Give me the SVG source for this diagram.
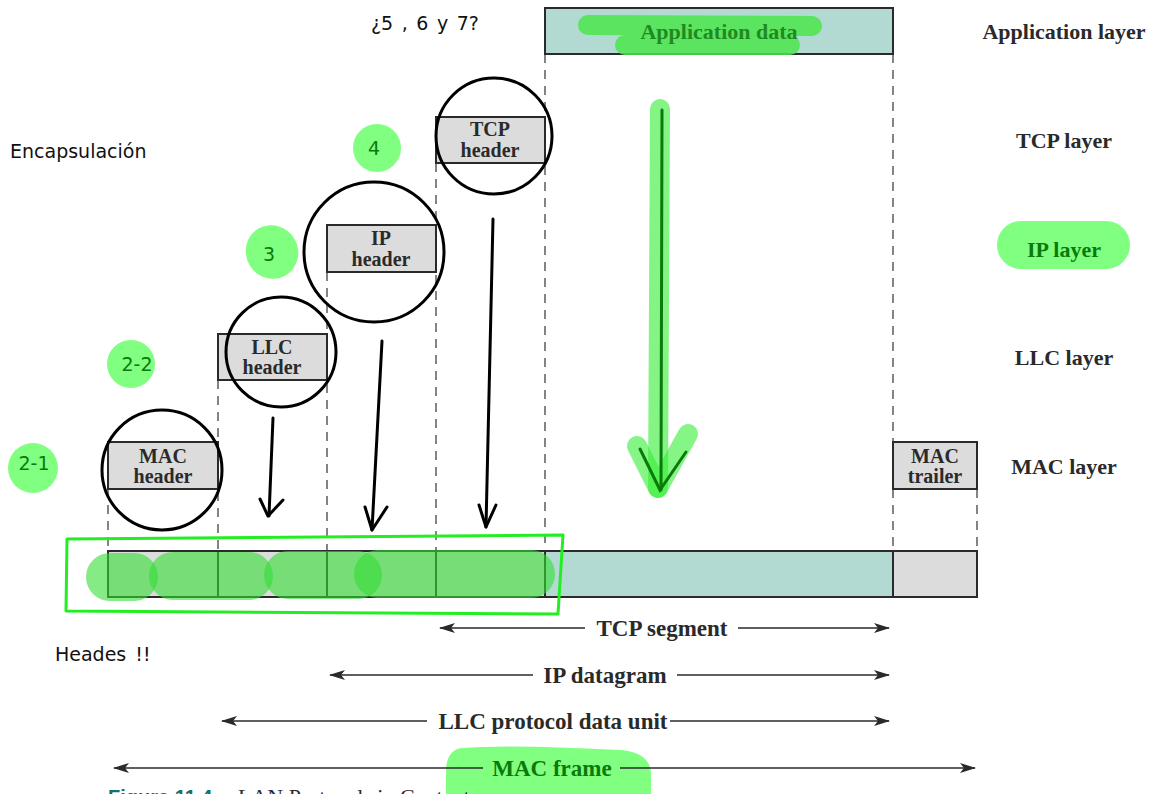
<svg xmlns="http://www.w3.org/2000/svg" width="1152" height="794" viewBox="0 0 1152 794">
<style>
.box{fill:#dcdcdc;stroke:#2a2a2a;stroke-width:2}
.teal{fill:#b2d9d2;stroke:#2a2a2a;stroke-width:2}
.dash{stroke:#333;stroke-width:1.2;stroke-dasharray:9 7;fill:none}
.lbl{font-family:"Liberation Serif",serif;font-weight:bold;font-size:22px;fill:#2a2a2a;text-anchor:middle}
.dl{font-family:"Liberation Serif",serif;font-weight:bold;font-size:23px;fill:#2a2a2a;text-anchor:middle}
.hl{font-family:"Liberation Serif",serif;font-weight:bold;font-size:20px;fill:#2a2a2a;text-anchor:middle}
.note{font-family:"DejaVu Sans",sans-serif;font-size:19px;fill:#111}
.gtxt{font-family:"DejaVu Sans",sans-serif;font-size:19px;fill:#0a7a0a;text-anchor:middle}
.bub{fill:#80ff80}
.ring{fill:none;stroke:#000;stroke-width:3}
.pen{fill:none;stroke:#000;stroke-width:3;stroke-linecap:round;stroke-linejoin:round}
.dim{stroke:#2a2a2a;stroke-width:1.5;fill:none}
.hi{fill:#33dd33;opacity:0.6}
</style>
<defs>
<marker id="ah" viewBox="0 0 16 10" refX="15" refY="5" markerWidth="16" markerHeight="10" markerUnits="userSpaceOnUse" orient="auto-start-reverse">
<path d="M0,0 L16,5 L0,10 L4,5 Z" fill="#2a2a2a"/>
</marker>
</defs>

<g id="dashed-guides">
<line class="dash" x1="545" y1="54" x2="545" y2="550"/>
<line class="dash" x1="893" y1="54" x2="893" y2="442"/>
<line class="dash" x1="893" y1="489" x2="893" y2="550"/>
<line class="dash" x1="977" y1="489" x2="977" y2="550"/>
<line class="dash" x1="436" y1="163" x2="436" y2="550"/>
<line class="dash" x1="327" y1="272" x2="327" y2="550"/>
<line class="dash" x1="218" y1="380" x2="218" y2="550"/>
<line class="dash" x1="108" y1="489" x2="108" y2="550"/>
</g>

<g id="app-data">
<rect class="teal" x="545" y="8" width="348" height="46"/>
<line x1="588" y1="25" x2="812" y2="26" stroke="#4de64d" stroke-width="20" stroke-linecap="round" opacity="0.85"/>
<line x1="625" y1="45" x2="790" y2="45" stroke="#4de64d" stroke-width="20" stroke-linecap="round" opacity="0.85"/>
<text class="lbl" x="719" y="39" style="fill:#1f8a1f">Application data</text>
</g>

<g id="tcp-header">
<rect class="box" x="436" y="117" width="109" height="46"/>
<text class="hl" x="490" y="136">TCP</text>
<text class="hl" x="490" y="157">header</text>
</g>
<g id="ip-header">
<rect class="box" x="327" y="225" width="109" height="47"/>
<text class="hl" x="381" y="245">IP</text>
<text class="hl" x="381" y="266">header</text>
</g>
<g id="llc-header">
<rect class="box" x="218" y="334" width="109" height="46"/>
<text class="hl" x="272" y="354">LLC</text>
<text class="hl" x="272" y="374">header</text>
</g>
<g id="mac-header">
<rect class="box" x="108" y="442" width="110" height="47"/>
<text class="hl" x="163" y="463">MAC</text>
<text class="hl" x="163" y="483">header</text>
</g>
<g id="mac-trailer">
<rect class="box" x="893" y="442" width="84" height="47"/>
<text class="hl" x="935" y="463">MAC</text>
<text class="hl" x="935" y="483">trailer</text>
</g>

<g id="frame">
<rect class="box" x="108" y="551" width="110" height="46"/>
<rect class="box" x="218" y="551" width="109" height="46"/>
<rect class="box" x="327" y="551" width="109" height="46"/>
<rect class="box" x="436" y="551" width="109" height="46"/>
<rect class="teal" x="545" y="551" width="348" height="46"/>
<rect class="box" x="893" y="551" width="84" height="46"/>
<rect class="hi" x="86" y="553" width="72" height="48" rx="24"/>
<rect class="hi" x="149" y="552" width="124" height="48" rx="24"/>
<rect class="hi" x="264" y="551" width="118" height="48" rx="24"/>
<rect class="hi" x="354" y="550" width="201" height="48" rx="24"/>
<path d="M67,539 L563,535 L558,614 L66,611 Z" fill="none" stroke="#22ee22" stroke-width="3" stroke-linejoin="round"/>
</g>

<g id="circles">
<circle class="ring" cx="162" cy="470" r="60"/>
<circle class="ring" cx="281" cy="352" r="55"/>
<circle class="ring" cx="374" cy="252" r="70"/>
<circle class="ring" cx="494" cy="136" r="58"/>
</g>

<g id="connectors">
<path class="pen" d="M273,418 L269,516"/>
<path class="pen" d="M260,499 L268,516 L283,500"/>
<path class="pen" d="M382,341 L372,530"/>
<path class="pen" d="M365,507 L372,530 L387,507"/>
<path class="pen" d="M493,219 L486,527"/>
<path class="pen" d="M479,505 L486,527 L496,505"/>
<line x1="660" y1="109" x2="658" y2="488" stroke="#33ee33" stroke-width="20" stroke-linecap="round" opacity="0.6"/>
<path d="M637,446 L658,488 L688,434" fill="none" stroke="#33ee33" stroke-width="20" stroke-linecap="round" stroke-linejoin="round" opacity="0.6"/>
<line x1="662" y1="110" x2="661" y2="490" stroke="#0a7a0a" stroke-width="3" stroke-linecap="round"/>
<path d="M640,449 L660,490 L686,452" fill="none" stroke="#0a7a0a" stroke-width="3" stroke-linecap="round"/>

<line class="dim" x1="440" y1="628" x2="585" y2="628" marker-start="url(#ah)"/>
<line class="dim" x1="738" y1="628" x2="889" y2="628" marker-end="url(#ah)"/>
<text class="dl" x="662" y="636">TCP segment</text>
<line class="dim" x1="330" y1="675" x2="533" y2="675" marker-start="url(#ah)"/>
<line class="dim" x1="677" y1="675" x2="889" y2="675" marker-end="url(#ah)"/>
<text class="dl" x="605" y="683">IP datagram</text>
<line class="dim" x1="222" y1="721" x2="427" y2="721" marker-start="url(#ah)"/>
<line class="dim" x1="670" y1="721" x2="889" y2="721" marker-end="url(#ah)"/>
<text class="dl" x="553" y="729">LLC protocol data unit</text>
<path d="M462,748 Q505,744 620,750 Q651,752 651,775 L651,794 L446,794 L446,772 Q446,750 462,748 Z" class="bub"/>
<line class="dim" x1="114" y1="768" x2="483" y2="768" marker-start="url(#ah)"/>
<line class="dim" x1="620" y1="768" x2="975" y2="768" marker-end="url(#ah)"/>
<text class="dl" x="552" y="776" style="fill:#0a7a0a">MAC frame</text>
</g>

<g id="layers">
<text class="lbl" x="1064" y="39">Application layer</text>
<text class="lbl" x="1064" y="148">TCP layer</text>
<rect class="bub" x="997" y="221" width="133" height="48" rx="24"/>
<text class="lbl" x="1064" y="257" style="fill:#0a7a0a">IP layer</text>
<text class="lbl" x="1064" y="365">LLC layer</text>
<text class="lbl" x="1064" y="474">MAC layer</text>
</g>

<g id="annotations">
<text class="note" x="371" y="30" style="word-spacing:2.5px">¿5 , 6 y 7?</text>
<text class="note" x="10" y="158">Encapsulación</text>
<text class="note" x="55" y="661" style="word-spacing:3px">Heades !!</text>
<circle class="bub" cx="377" cy="148" r="24"/>
<text class="gtxt" x="374" y="155">4</text>
<ellipse class="bub" cx="272" cy="252" rx="26" ry="27" transform="rotate(-30 272 252)"/>
<text class="gtxt" x="269" y="261">3</text>
<circle class="bub" cx="131" cy="364" r="24"/>
<text class="gtxt" x="137" y="371">2-2</text>
<circle class="bub" cx="33" cy="468" r="25"/>
<text class="gtxt" x="34" y="470">2-1</text>
</g>

<g id="caption">
<text x="108" y="804" font-family="Liberation Sans,sans-serif" font-weight="bold" font-size="20" fill="#1a6e6e">Figure 11.4</text>
<text x="238" y="804" font-family="Liberation Serif,serif" font-size="22" fill="#2a2a2a">LAN Protocols in Context</text>
</g>
</svg>
